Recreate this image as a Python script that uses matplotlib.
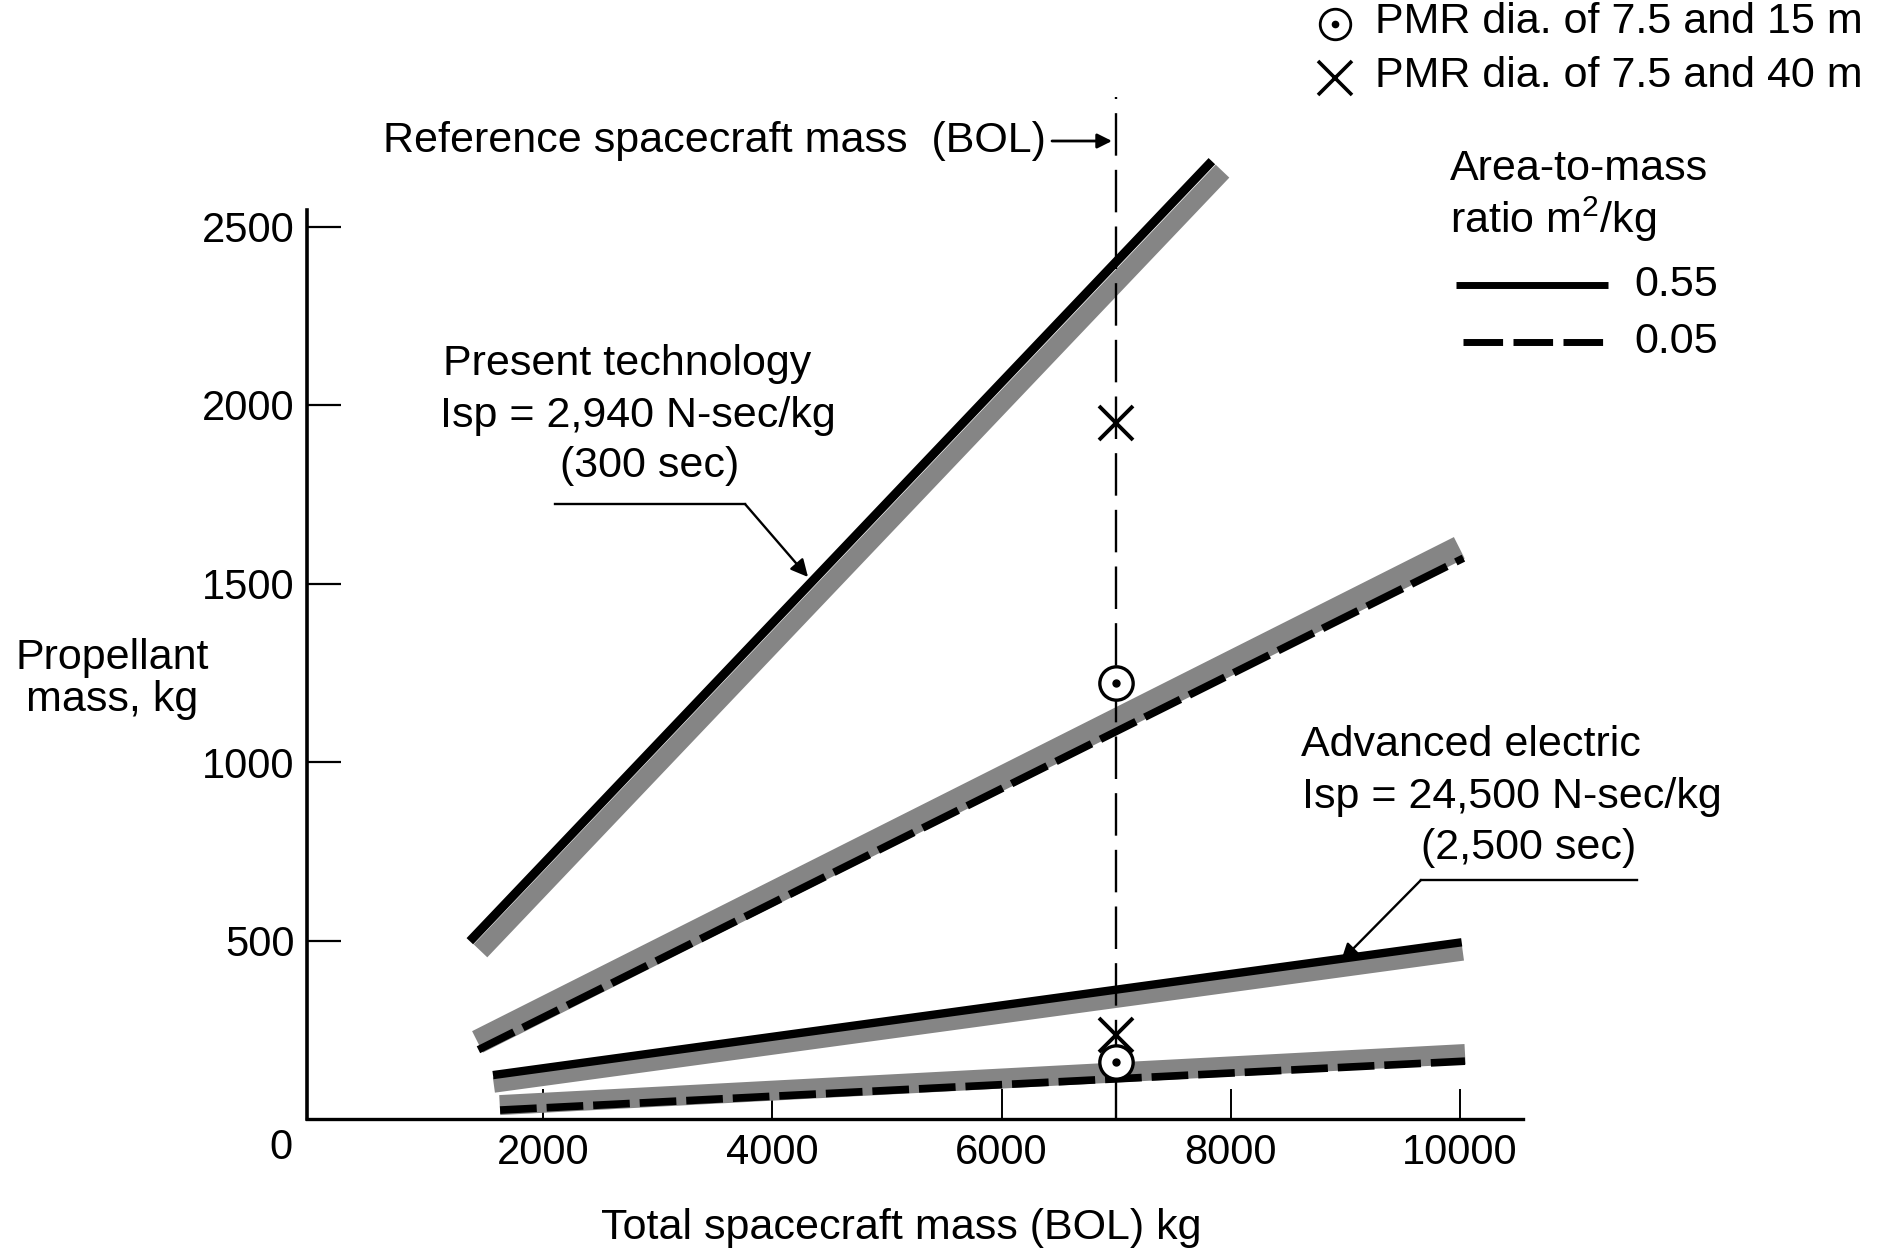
import matplotlib
matplotlib.use('Agg')
import matplotlib.pyplot as plt
from matplotlib.lines import Line2D

plt.rcParams['font.family'] = ['Liberation Sans', 'DejaVu Sans']
plt.rcParams['mathtext.fontset'] = 'custom'
plt.rcParams['mathtext.rm'] = 'Liberation Sans'
plt.rcParams['mathtext.it'] = 'Liberation Sans:italic'

# ---------------- data ----------------
ref_mass = 7000          # reference spacecraft mass (BOL), kg
ref_line_top = 2863

# Present technology, Isp = 2,940 N-sec/kg ; area-to-mass 0.55 (solid)
pt055_x = [1360, 7835]
pt055_y = [498, 2683]
pt055_band_x = [1453, 7928]
pt055_band_y = [471, 2655]
# Present technology ; area-to-mass 0.05 (dashed)
pt005_x = [1435, 10030]
pt005_y = [194, 1571]
pt005_band_x = [1427, 9994]
pt005_band_y = [216, 1600]
# Advanced electric, Isp = 24,500 N-sec/kg ; area-to-mass 0.55 (solid)
ae055_x = [1562, 10015]
ae055_y = [123, 495]
ae055_band_x = [1570, 10026]
ae055_band_y = [95, 465]
# Advanced electric ; area-to-mass 0.05 (dashed)
ae005_x = [1624, 10044]
ae005_y = [25, 162]
ae005_band_x = [1621, 10044]
ae005_band_y = [39, 182]

# PMR points at the reference mass
pmr15_x = [7000, 7000]
pmr15_y = [1220, 160]
pmr40_x = [7000, 7000]
pmr40_y = [1950, 235]

x_ticks = [2000, 4000, 6000, 8000, 10000]
y_ticks = [500, 1000, 1500, 2000, 2500]

# ---------------- figure ----------------
W, H = 1891, 1258
fig = plt.figure(figsize=(W / 100, H / 100), dpi=100)

XMIN, XMAX = -60, 10550
YMIN, YMAX = 0, 2900
PX_X = 0.1146   # px per kg (x)
PX_Y = 0.357    # px per kg (y)
ax = fig.add_axes([307.1 / W, (H - 1119) / H,
                   PX_X * (XMAX - XMIN) / W, PX_Y * (YMAX - YMIN) / H])
ax.set_xlim(XMIN, XMAX)
ax.set_ylim(YMIN, YMAX)
ax.patch.set_alpha(0)
for s in ['top', 'right']:
    ax.spines[s].set_visible(False)
ax.spines['left'].set_bounds(0, 2545)
ax.spines['left'].set_linewidth(2.6)
ax.spines['bottom'].set_linewidth(2.4)

ax.set_xticks(x_ticks)
ax.set_xticklabels([str(v) for v in x_ticks])
ax.set_yticks(y_ticks)
ax.set_yticklabels([str(v) for v in y_ticks])
ax.tick_params(axis='x', direction='in', length=21.5, width=1.4, pad=10, labelsize=30)
ax.tick_params(axis='y', direction='in', length=24.5, width=1.6, pad=9, labelsize=30)

GRAY = '#858585'

# gray bands
ax.plot(pt055_band_x, pt055_band_y, color=GRAY, lw=13.5, solid_capstyle='butt', zorder=2, clip_on=False)
ax.plot(pt005_band_x, pt005_band_y, color=GRAY, lw=17.3, solid_capstyle='butt', zorder=2)
ax.plot(ae055_band_x, ae055_band_y, color=GRAY, lw=11, solid_capstyle='butt', zorder=2)
ax.plot(ae005_band_x, ae005_band_y, color=GRAY, lw=14.4, solid_capstyle='butt', zorder=2)

# lines
ax.plot(pt055_x, pt055_y, color='black', lw=6.5, solid_capstyle='butt', zorder=3, clip_on=False)
ax.plot(pt005_x, pt005_y, color='black', lw=5.5, ls=(0, (5.2, 1.3)), dash_capstyle='butt', zorder=3)
ax.plot(ae055_x, ae055_y, color='black', lw=6, solid_capstyle='butt', zorder=3)
ax.plot(ae005_x, ae005_y, color='black', lw=5.5, ls=(0, (4.8, 1.3)), dash_capstyle='butt', zorder=3)

# reference mass line
ax.plot([ref_mass, ref_mass], [0, ref_line_top], color='black', lw=1.7,
        ls=(0, (18, 6)), zorder=4, clip_on=False)

# markers
ax.plot(pmr40_x, pmr40_y, ls='none', marker='x', ms=24, mew=2.8, color='black', zorder=5)
ax.plot(pmr15_x, pmr15_y, ls='none', marker='o', ms=24, mfc='white', mec='black', mew=2.4, zorder=6)
ax.plot(pmr15_x, pmr15_y, ls='none', marker='o', ms=5, color='black', zorder=7)


# ---------------- texts (positions in px of the reference) ----------------
def fx(p):
    return p / W


def fy(p):
    return 1 - p / H


FS = 31
fig.text(fx(281), fy(1148), '0', fontsize=30, ha='center', va='center')
fig.text(fx(901), fy(1228), 'Total spacecraft mass (BOL) kg', fontsize=FS, ha='center', va='center')
fig.text(fx(112), fy(679), 'Propellant\nmass, kg', fontsize=FS, ha='center', va='center',
         multialignment='center', linespacing=1.05)

fig.text(fx(383), fy(141), 'Reference spacecraft mass  (BOL)', fontsize=FS, ha='left', va='center')
ax.annotate('', xy=(fx(1112), fy(141)), xytext=(fx(1052), fy(141)), xycoords='figure fraction',
            textcoords='figure fraction',
            arrowprops=dict(arrowstyle='-|>', lw=2, color='black', mutation_scale=22,
                            shrinkA=0, shrinkB=0))

fig.text(fx(443), fy(364), 'Present technology', fontsize=FS, ha='left', va='center')
fig.text(fx(440), fy(416), 'Isp = 2,940 N-sec/kg', fontsize=FS, ha='left', va='center')
fig.text(fx(560), fy(466), '(300 sec)', fontsize=FS, ha='left', va='center')
fig.add_artist(Line2D([fx(555), fx(745)], [fy(504), fy(504)], color='black', lw=1.7,
                      transform=fig.transFigure))
ax.annotate('', xy=(fx(808), fy(577)), xytext=(fx(745), fy(504)), xycoords='figure fraction',
            textcoords='figure fraction',
            arrowprops=dict(arrowstyle='-|>', lw=1.7, color='black', mutation_scale=26,
                            shrinkA=0, shrinkB=0))

fig.text(fx(1301), fy(745), 'Advanced electric', fontsize=FS, ha='left', va='center')
fig.text(fx(1302), fy(797), 'Isp = 24,500 N-sec/kg', fontsize=FS, ha='left', va='center')
fig.text(fx(1421), fy(848), '(2,500 sec)', fontsize=FS, ha='left', va='center')
fig.add_artist(Line2D([fx(1421), fx(1637)], [fy(880), fy(880)], color='black', lw=1.7,
                      transform=fig.transFigure))
ax.annotate('', xy=(fx(1341), fy(961)), xytext=(fx(1421), fy(880)), xycoords='figure fraction',
            textcoords='figure fraction',
            arrowprops=dict(arrowstyle='-|>', lw=1.7, color='black', mutation_scale=26,
                            shrinkA=0, shrinkB=0))

# legend (top right)
fig.add_artist(Line2D([fx(1335)], [fy(24)], ls='none', marker='o', ms=22, mfc='white', mec='black',
                      mew=2.0, transform=fig.transFigure))
fig.add_artist(Line2D([fx(1335)], [fy(24)], ls='none', marker='o', ms=4.5, color='black',
                      transform=fig.transFigure))
fig.text(fx(1375), fy(22), 'PMR dia. of 7.5 and 15 m', fontsize=FS, ha='left', va='center')
fig.add_artist(Line2D([fx(1335)], [fy(78)], ls='none', marker='x', ms=24, mew=2.6, color='black',
                      transform=fig.transFigure))
fig.text(fx(1375), fy(76), 'PMR dia. of 7.5 and 40 m', fontsize=FS, ha='left', va='center')

fig.text(fx(1450), fy(169), 'Area-to-mass', fontsize=FS, ha='left', va='center')
fig.text(fx(1450), fy(219), 'ratio m$^{2}$/kg', fontsize=FS, ha='left', va='center')
fig.add_artist(Line2D([fx(1456), fx(1608)], [fy(285), fy(285)], color='black', lw=5,
                      solid_capstyle='butt', transform=fig.transFigure))
fig.text(fx(1634), fy(285), '0.55', fontsize=FS, ha='left', va='center')
fig.add_artist(Line2D([fx(1463), fx(1608)], [fy(342), fy(342)], color='black', lw=5,
                      ls=(0, (5.7, 1.5)), dash_capstyle='butt', transform=fig.transFigure))
fig.text(fx(1634), fy(342), '0.05', fontsize=FS, ha='left', va='center')

fig.savefig('out.png', dpi=100, facecolor='white')
